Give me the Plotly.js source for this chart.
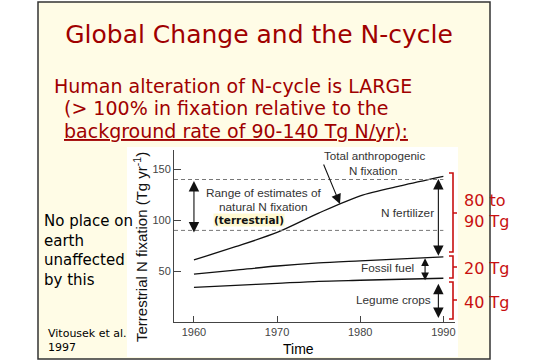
<!DOCTYPE html>
<html>
<head>
<meta charset="utf-8">
<script src="https://cdn.plot.ly/plotly-3.0.1.min.js"></script>
<style>html,body{margin:0;padding:0;background:#fff;}#chart{width:552px;height:363px;}</style>
</head>
<body>
<div id="chart"></div>
<script>
// ---- data ----
const years = [1960, 1965, 1970, 1975, 1980, 1985, 1990];
const totalAnthro = [61, 74, 88, 107, 124, 134, 143];
const fossilTop = [47, 51, 55, 58, 60, 62, 64];
const legumeCrops = [34, 36, 38, 40, 41, 42, 43];
const naturalRange = [90, 140];
const xTickVals = [1960, 1970, 1980, 1990];
const yTickVals = [50, 100, 150];
const bracketLabels = ['80 to<br>90 Tg', '20 Tg', '40 Tg'];
const componentLabels = ['N fertilizer', 'Fossil fuel', 'Legume crops'];

// ---- geometry helpers (pixel -> paper) ----
const W = 552, H = 363;
const mL = 174, mR = 97, mT = 150, mB = 41;
const pw = W - mL - mR, ph = H - mT - mB;
const PX = x => (x - mL) / pw;
const PY = y => (H - mB - y) / ph;

const comic = '"Comic Sans MS", "DejaVu Sans", sans-serif';
const arial = '"Liberation Sans", Arial, sans-serif';
const darkRed = '#A00000';
const red = '#C81010';

const xRange = [1957.6, 1991.4];
const yRange = [0, 169];

const traces = [
  {x: years, y: totalAnthro, mode: 'lines', line: {color: '#111', width: 1.3, shape: 'spline', smoothing: 0.8}, hoverinfo: 'skip'},
  {x: years, y: fossilTop, mode: 'lines', line: {color: '#111', width: 1.3, shape: 'spline', smoothing: 0.8}, hoverinfo: 'skip'},
  {x: years, y: legumeCrops, mode: 'lines', line: {color: '#111', width: 1.3, shape: 'spline', smoothing: 0.8}, hoverinfo: 'skip'},
  {x: [xRange[0], years[years.length-1]], y: [naturalRange[1], naturalRange[1]], mode: 'lines', line: {color: '#777', width: 1, dash: '4px,3px'}, hoverinfo: 'skip'},
  {x: [xRange[0], years[years.length-1]], y: [naturalRange[0], naturalRange[0]], mode: 'lines', line: {color: '#777', width: 1, dash: '4px,3px'}, hoverinfo: 'skip'}
];

function bracket(top, bot, mid) {
  const x0 = PX(449), x1 = PX(453), x2 = PX(457);
  return {type: 'path', xref: 'paper', yref: 'paper', layer: 'above',
    path: `M${x0},${PY(top)} L${x1},${PY(top)} L${x1},${PY(bot)} L${x0},${PY(bot)} M${x1},${PY(mid)} L${x2},${PY(mid)}`,
    line: {color: red, width: 1.6}};
}

const shapes = [
  {type: 'rect', xref: 'paper', yref: 'paper', layer: 'below', x0: PX(38), x1: PX(490), y0: PY(359), y1: PY(2), fillcolor: '#FFFCE6', line: {color: '#333', width: 1.5}},
  {type: 'rect', xref: 'paper', yref: 'paper', layer: 'below', x0: PX(127), x1: PX(458), y0: PY(357), y1: PY(147), fillcolor: '#FFFFFF', line: {width: 0}},
  bracket(173, 252, 213),
  bracket(256, 278, 267),
  bracket(282, 319, 300)
];

function dblArrow(x, y0, y1, size) {
  return {x: x, y: y1, ax: x, ay: y0, xref: 'x', yref: 'y', axref: 'x', ayref: 'y',
    text: '', showarrow: true, arrowhead: 2, startarrowhead: 2, arrowside: 'end+start',
    arrowsize: size, startarrowsize: size, arrowwidth: 1.1, arrowcolor: '#111', standoff: 0, startstandoff: 0};
}

function txt(text, x, y, size, opts) {
  return Object.assign({text: text, x: PX(x), y: PY(y), xref: 'paper', yref: 'paper', showarrow: false,
    xanchor: 'center', yanchor: 'middle', font: {family: arial, size: size, color: '#333'}}, opts || {});
}

const last = years.length - 1;
const annotations = [
  // header texts
  txt('Human alteration of N-cycle is LARGE', 52, 86, 19, {xanchor: 'left', font: {family: comic, size: 19, color: darkRed}}),
  txt('(> 100% in fixation relative to the', 62, 108, 19, {xanchor: 'left', font: {family: comic, size: 19, color: darkRed}}),
  txt('<u>background rate of 90-140 Tg N/yr):</u>', 62, 131, 19, {xanchor: 'left', font: {family: comic, size: 19, color: darkRed}}),
  // left side notes
  txt('No place on<br>earth<br>unaffected<br>by this', 42, 250, 15, {xanchor: 'left', align: 'left', font: {family: comic, size: 15, color: '#000'}}),
  txt('Vitousek et al.<br>1997', 46, 340, 11, {xanchor: 'left', align: 'left', font: {family: comic, size: 11, color: '#000'}}),
  // axis titles
  txt('Terrestrial N fixation (Tg yr<sup>-1</sup>)', 140, 247, 15, {textangle: -90, font: {family: arial, size: 15, color: '#111'}}),
  txt('Time', 298, 349, 14, {font: {family: arial, size: 14, color: '#000'}}),
  // chart labels
  txt('Range of estimates of', 263, 193, 11.8),
  txt('natural N fixation', 263, 207, 11.8),
  txt('<b>(terrestrial)</b>', 249, 220, 10.5, {font: {family: comic, size: 10.5, color: '#111'}, bgcolor: 'rgba(255,248,205,0.9)', borderpad: 0}),
  txt('Total anthropogenic', 374, 155, 11.6),
  txt('N fixation', 373, 170, 11.6),
  txt(componentLabels[0], 407, 213, 11.8),
  txt(componentLabels[1], 387, 268, 11.8),
  txt(componentLabels[2], 393, 300, 11.8),
  // bracket labels
  txt(bracketLabels[0], 462, 211, 16, {xanchor: 'left', align: 'left', font: {family: comic, size: 16, color: red}}),
  txt(bracketLabels[1], 462, 268, 16, {xanchor: 'left', font: {family: comic, size: 16, color: red}}),
  txt(bracketLabels[2], 462, 302, 16, {xanchor: 'left', font: {family: comic, size: 16, color: red}}),
  // pointer arrow
  {x: PX(340), y: PY(204), xref: 'paper', yref: 'paper', ax: -17, ay: -41, text: '', showarrow: true,
   arrowhead: 2, arrowsize: 1.8, arrowwidth: 1.1, arrowcolor: '#111', standoff: 0},
  // double arrows
  dblArrow(years[0], naturalRange[1], naturalRange[0] - 2, 1.9),
  dblArrow(1989.4, totalAnthro[last] - 1, fossilTop[last] + 1, 1.9),
  dblArrow(1987.8, fossilTop[last], legumeCrops[last] - 2, 1.4),
  dblArrow(1989.4, legumeCrops[last] - 4, 4, 1.9)
];

const layout = {
  width: W, height: H,
  margin: {l: mL, r: mR, t: mT, b: mB, pad: 0},
  paper_bgcolor: '#FFFFFF',
  plot_bgcolor: 'rgba(0,0,0,0)',
  showlegend: false,
  title: {text: 'Global Change and the N-cycle', x: 259 / W, xref: 'container', y: 1 - 34 / H, yref: 'container',
    xanchor: 'center', yanchor: 'middle', font: {family: comic, size: 25, color: darkRed}},
  xaxis: {range: xRange, showgrid: false, zeroline: false, showline: true, linecolor: '#444', linewidth: 1,
    ticks: 'inside', ticklen: 6, tickcolor: '#444', tickvals: xTickVals, ticktext: xTickVals.map(String),
    tickfont: {family: arial, size: 11, color: '#444'}, fixedrange: true},
  yaxis: {range: yRange, showgrid: false, zeroline: false, showline: true, linecolor: '#444', linewidth: 1,
    ticks: 'inside', ticklen: 7, tickcolor: '#444', tickvals: yTickVals, ticktext: yTickVals.map(String),
    tickfont: {family: arial, size: 11, color: '#444'}, fixedrange: true},
  shapes: shapes,
  annotations: annotations
};

Plotly.newPlot('chart', traces, layout, {displayModeBar: false, staticPlot: true});
</script>
</body>
</html>
